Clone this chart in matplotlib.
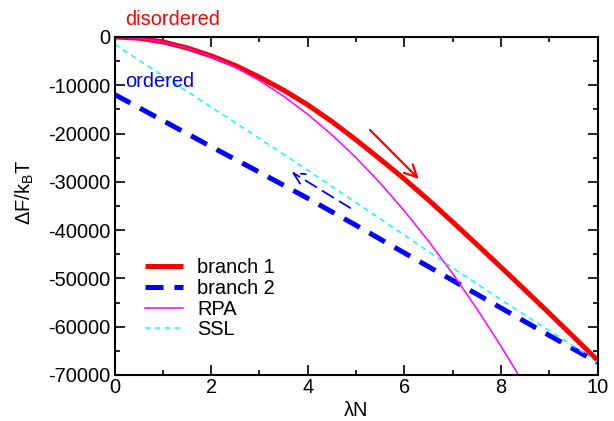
import matplotlib
matplotlib.use("Agg")
import matplotlib.pyplot as plt

plt.rcParams['font.family'] = ['Liberation Sans', 'DejaVu Sans']
plt.rcParams['mathtext.fontset'] = 'custom'
plt.rcParams['mathtext.rm'] = 'Liberation Sans'
plt.rcParams['mathtext.it'] = 'Liberation Sans'
plt.rcParams['mathtext.default'] = 'regular'
plt.rcParams['axes.unicode_minus'] = False

# lambda*N grid for the disordered branch and the RPA curve
x_branch = [0, 0.5, 1, 1.5, 2, 2.5, 3, 3.5, 4, 4.5, 5, 5.5, 6, 6.5, 7, 7.5, 8, 8.5, 9, 9.5, 10]
branch1 = [0, -250, -1000, -2250, -3900, -5900, -8300, -11000, -14050, -17500, -21300,
           -25300, -29400, -33750, -38300, -42950, -47650, -52400, -57200, -62050, -66950]

x_lin = [0, 1, 2, 3, 4, 5, 6, 7, 8, 9, 10]
branch2 = [-11900, -17300, -22700, -28000, -33400, -39000, -44700, -50400, -56100, -61800, -67400]
ssl = [-1500, -8000, -14500, -21000, -27600, -34300, -41000, -47800, -54400, -60800, -67200]

x_rpa = [0, 0.5, 1, 1.5, 2, 2.5, 3, 3.5, 4, 4.5, 5, 5.5, 6, 6.5, 7, 7.5, 8, 8.5]
rpa = [0, -250, -1000, -2250, -4000, -6250, -9000, -12250, -16000, -20250, -25000,
       -30250, -36000, -42250, -49000, -56250, -64000, -72250]

W, H = 614, 421
fig = plt.figure(figsize=(W / 100, H / 100), dpi=100)
ax = fig.add_axes([114.5 / W, 1 - 375 / H, (597.5 - 114.5) / W, (375 - 37) / H])

FS = 14.4

ax.plot(x_branch, branch1, color='#ff0000', lw=3.6, label='branch 1', solid_capstyle='butt')
ax.plot(x_lin, branch2, color='#0000ff', lw=3.6, dashes=(3.6, 2.2), label='branch 2')
ax.plot(x_rpa, rpa, color='#ff00ff', lw=1.1, label='RPA')
ax.plot(x_lin, ssl, color='#00ffff', lw=1.1, dashes=(3.5, 3.0), label='SSL')

# direction arrows along the branches
ax.annotate('', xy=(6.30, -29400), xytext=(5.29, -19260),
            arrowprops=dict(arrowstyle='->', color='#ff0000', lw=1.6,
                            mutation_scale=22, shrinkA=0, shrinkB=0))
ax.annotate('', xy=(3.67, -27960), xytext=(4.88, -35400),
            arrowprops=dict(arrowstyle='->', color='#0000ff', lw=1.3, linestyle=(0, (7, 4)),
                            mutation_scale=20, shrinkA=0, shrinkB=0))

ax.text(0.22, 2485, 'disordered', color='#ff0000', fontsize=FS, ha='left', va='baseline',
        clip_on=False)
ax.text(0.22, -10290, 'ordered', color='#0000ff', fontsize=FS, ha='left', va='baseline')

ax.set_xlim(0, 10)
ax.set_ylim(-70000, 0)
ax.set_xticks([0, 2, 4, 6, 8, 10])
ax.set_xticks([1, 3, 5, 7, 9], minor=True)
ax.set_yticks(list(range(-70000, 1, 10000)))
ax.set_yticks(list(range(-65000, 0, 10000)), minor=True)

for s in ax.spines.values():
    s.set_linewidth(1.5)
ax.tick_params(which='both', direction='in', top=True, right=True, width=1.2,
               labelsize=FS, colors='black')
ax.tick_params(which='major', length=7.2)
ax.tick_params(which='minor', length=3.6)
ax.tick_params(axis='x', which='major', pad=2)
ax.tick_params(axis='y', which='major', pad=3)

ax.set_xlabel('λN', fontsize=FS, labelpad=3)
ax.set_ylabel(r'$\Delta$F/k$_B$T', fontsize=FS)
ax.yaxis.set_label_coords(-0.163, 0.541)

ax.legend(loc='upper left', bbox_to_anchor=(145 / W, 1 - 258 / H),
          bbox_transform=fig.transFigure, frameon=False, fontsize=FS,
          borderpad=0, borderaxespad=0, handlelength=1.9, handletextpad=0.7,
          labelspacing=0.09)

fig.savefig('out.png', dpi=100)
